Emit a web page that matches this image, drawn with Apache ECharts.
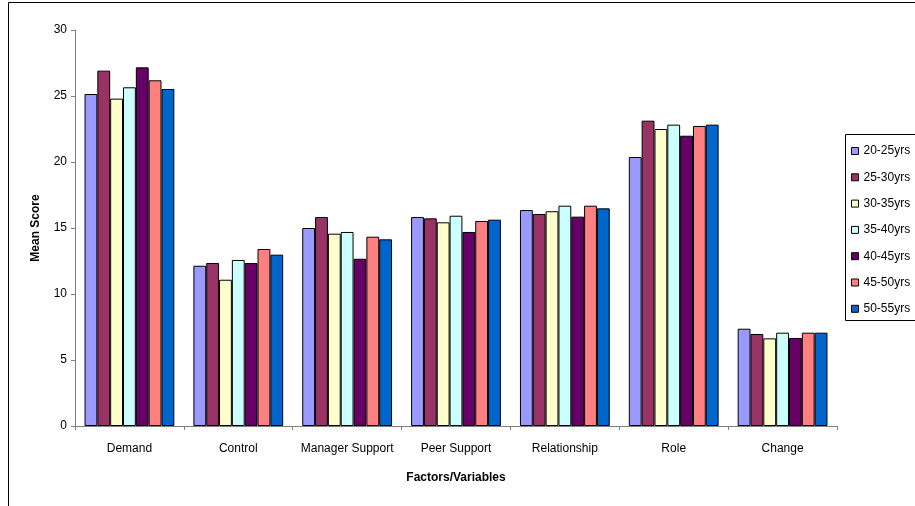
<!DOCTYPE html>
<html>
<head>
<meta charset="utf-8">
<script src="https://cdn.jsdelivr.net/npm/echarts@6/dist/echarts.min.js"></script>
<style>
  html, body { margin: 0; padding: 0; background: #fff; }
  #chart { width: 915px; height: 506px; }
</style>
</head>
<body>
<div id="chart"></div>
<script>
// Factors measured in the survey
const categories = ['Demand', 'Control', 'Manager Support', 'Peer Support', 'Relationship', 'Role', 'Change'];

// Age bands
const ageGroups = ['20-25yrs', '25-30yrs', '30-35yrs', '35-40yrs', '40-45yrs', '45-50yrs', '50-55yrs'];

// Mean score per factor, one array per age band
const age20_25 = [25.15, 12.14, 15.0, 15.83, 16.36, 20.38, 7.37];
const age25_30 = [26.92, 12.35, 15.83, 15.73, 16.06, 23.13, 6.97];
const age30_35 = [24.8, 11.08, 14.57, 15.43, 16.27, 22.5, 6.64];
const age35_40 = [25.66, 12.58, 14.7, 15.93, 16.69, 22.83, 7.07];
const age40_45 = [27.17, 12.35, 12.67, 14.7, 15.86, 21.99, 6.67];
const age45_50 = [26.19, 13.41, 14.34, 15.53, 16.69, 22.73, 7.07];
const age50_55 = [25.53, 12.98, 14.14, 15.63, 16.49, 22.83, 7.07];

const yTicks = [0, 5, 10, 15, 20, 25, 30];

const seriesValues = [age20_25, age25_30, age30_35, age35_40, age40_45, age45_50, age50_55];
const colors = ['#9999FF', '#993366', '#FFFFCC', '#CCFFFF', '#660066', '#FF8080', '#0066CC'];

const font = 'Arial, "Liberation Sans", sans-serif';

const chart = echarts.init(document.getElementById('chart'), null, { renderer: 'canvas' });

chart.setOption({
  animation: false,
  backgroundColor: '#ffffff',
  color: colors,
  textStyle: { fontFamily: font },
  graphic: [
    {
      type: 'rect',
      shape: { x: 8.5, y: 2.5, width: 1000, height: 600 },
      style: { fill: 'none', stroke: '#000', lineWidth: 1 },
      silent: true,
      z: -1
    },
    {
      type: 'rect',
      shape: { x: 845.5, y: 134.5, width: 200, height: 186 },
      style: { fill: '#fff', stroke: '#000', lineWidth: 1 },
      silent: true,
      z: 0
    }
  ],
  legend: {
    orient: 'vertical',
    left: 846,
    top: 139,
    itemWidth: 7,
    itemHeight: 7,
    itemGap: 12.3,
    icon: 'rect',
    itemStyle: { borderColor: '#000', borderWidth: 1 },
    textStyle: { fontFamily: font, fontSize: 12, color: '#000', lineHeight: 14 },
    data: ageGroups,
    z: 5
  },
  grid: { left: 75, right: 78, top: 30, bottom: 80, containLabel: false },
  xAxis: {
    type: 'category',
    data: categories,
    name: 'Factors/Variables',
    nameLocation: 'middle',
    nameGap: 46,
    nameTextStyle: { fontFamily: font, fontSize: 12, fontWeight: 'bold', color: '#000' },
    axisLine: { lineStyle: { color: '#808080', width: 1 } },
    axisTick: { show: true, alignWithLabel: false, length: 4, lineStyle: { color: '#808080' } },
    axisLabel: { interval: 0, fontFamily: font, fontSize: 12, color: '#000', margin: 17 }
  },
  yAxis: {
    type: 'value',
    min: yTicks[0],
    max: yTicks[yTicks.length - 1],
    interval: 5,
    name: 'Mean Score',
    nameLocation: 'middle',
    nameGap: 33,
    nameRotate: 90,
    nameTextStyle: { fontFamily: font, fontSize: 12, fontWeight: 'bold', color: '#000' },
    axisLine: { show: true, lineStyle: { color: '#808080', width: 1 } },
    axisTick: { show: true, length: 4, lineStyle: { color: '#808080' } },
    splitLine: { show: false },
    axisLabel: { fontFamily: font, fontSize: 12, color: '#000', margin: 8 }
  },
  series: ageGroups.map((name, i) => ({
    name: name,
    type: 'bar',
    data: seriesValues[i],
    barGap: '0%',
    barCategoryGap: '17.5%',
    itemStyle: { color: colors[i], borderColor: '#000', borderWidth: 1 }
  }))
});
</script>
</body>
</html>
